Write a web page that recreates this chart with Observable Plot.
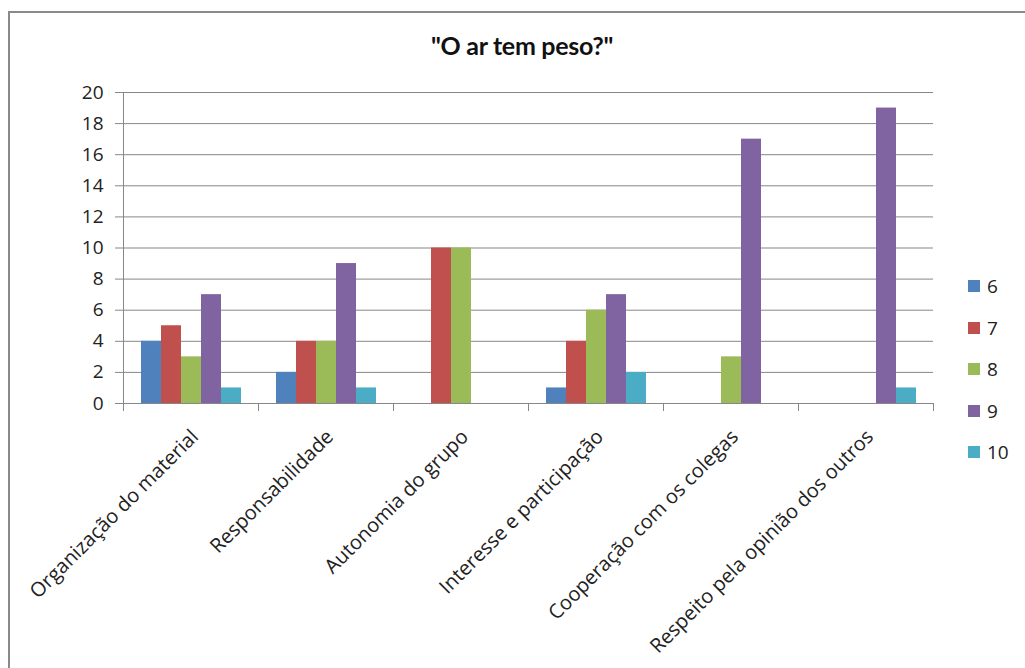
<!DOCTYPE html>
<html>
<head>
<meta charset="utf-8">
<script src="https://cdn.jsdelivr.net/npm/d3@7"></script>
<script src="https://cdn.jsdelivr.net/npm/@observablehq/plot@0.6"></script>
<style>
  html, body { margin: 0; padding: 0; background: #fff; }
  #wrap { position: relative; width: 1025px; height: 668px; overflow: hidden; font-family: "Open Sans", sans-serif; }
  #border { position: absolute; left: 8px; top: 11px; width: 1100px; height: 800px; border-left: 2px solid #8a8a8a; border-top: 2px solid #8a8a8a; }
  #title { position: absolute; left: 0; width: 1044px; top: 30px; text-align: center; font-family: Lato, sans-serif; font-weight: bold; font-size: 25px; color: #111; letter-spacing: -0.3px; }
  #chart { position: absolute; left: 0; top: 0; }
  #legend { position: absolute; left: 968px; top: 273px; font-size: 19px; color: #222; }
  .item { height: 41.5px; display: flex; align-items: flex-start; }
  .sw { width: 12px; height: 12px; margin-right: 7px; margin-top: 7px; }
</style>
</head>
<body>
<div id="wrap">
  <div id="border"></div>
  <div id="chart"></div>
  <div id="title"></div>
  <div id="legend"></div>
</div>
<script>
const title = "\"O ar tem peso?\"";
const categories = [
  "Organização do material",
  "Responsabilidade",
  "Autonomia do grupo",
  "Interesse e participação",
  "Cooperação com os colegas",
  "Respeito pela opinião dos outros"
];
const series = ["6", "7", "8", "9", "10"];
const values6  = [4, 2, 0, 1, 0, 0];
const values7  = [5, 4, 10, 4, 0, 0];
const values8  = [3, 4, 10, 6, 3, 0];
const values9  = [7, 9, 0, 7, 17, 19];
const values10 = [1, 1, 0, 2, 0, 1];
const yTicks = [0, 2, 4, 6, 8, 10, 12, 14, 16, 18, 20];
const colors = ["#4F81BD", "#C0504D", "#9BBB59", "#8064A2", "#4BACC6"];

const seriesValues = [values6, values7, values8, values9, values10];
const table = [];
categories.forEach((c, i) => {
  series.forEach((s, j) => {
    table.push({category: c, series: s, value: seriesValues[j][i]});
  });
});

const W = 1025, H = 668;
const mTop = 92, mBottom = 265, mLeft = 122, mRight = 91;
const plotH = H - mTop - mBottom;
const gray = "#878787";

const chart = Plot.plot({
  width: W,
  height: H,
  marginTop: mTop,
  marginBottom: mBottom,
  marginLeft: mLeft,
  marginRight: mRight,
  style: {fontFamily: "'Open Sans', sans-serif", fontSize: "19px", color: "#222", background: "transparent"},
  fx: {domain: categories, padding: 0},
  x: {domain: series, paddingInner: 0, paddingOuter: 0.75, axis: null},
  y: {domain: [0, 20]},
  color: {domain: series, range: colors},
  marks: [
    Plot.gridY(yTicks, {stroke: gray, strokeOpacity: 1, strokeWidth: 1}),
    Plot.frame({anchor: "left", stroke: gray, strokeWidth: 1, insetTop: plotH, insetBottom: -7}),
    Plot.frame({anchor: "right", stroke: gray, strokeWidth: 1, insetTop: plotH, insetBottom: -7}),
    Plot.barY(table, {fx: "category", x: "series", y: "value", fill: "series"}),
    Plot.ruleY([0], {stroke: gray, strokeWidth: 1}),
    Plot.axisY({ticks: yTicks, tickSize: 8, tickPadding: 12, stroke: gray, strokeOpacity: 1, fill: "#222", fontSize: 19, label: null, tickFormat: d => String(d)}),
    Plot.frame({anchor: "left", stroke: gray, strokeWidth: 1, facetAnchor: "left"}),
    Plot.axisFx({anchor: "bottom", tickRotate: -45, tickSize: 0, tickPadding: 30, dx: 4, fontSize: 20, label: null})
  ]
});
document.getElementById("chart").appendChild(chart);
document.getElementById("title").textContent = title;

const legend = d3.select("#legend");
const colorScale = chart.scale("color");
series.forEach((s, i) => {
  const item = legend.append("div").attr("class", "item");
  item.append("div").attr("class", "sw").style("background", colorScale.apply(s));
  item.append("span").text(s);
});
</script>
</body>
</html>
